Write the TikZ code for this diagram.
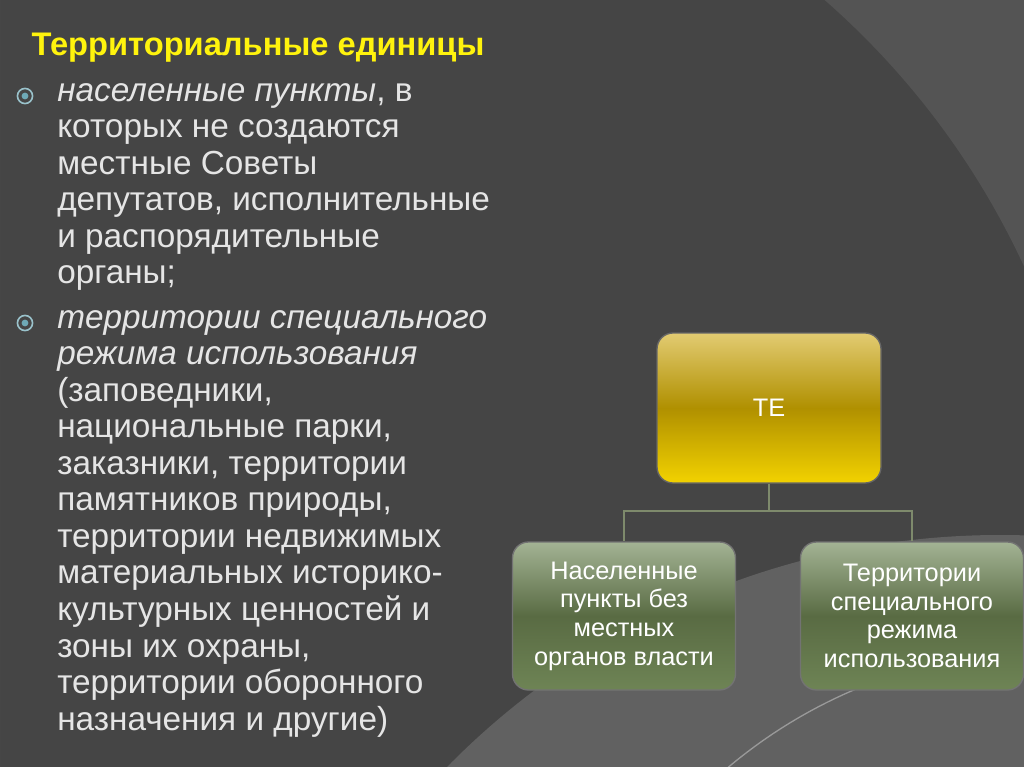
\documentclass[tikz,border=0pt]{standalone}
\usepackage{fontspec}
\setmainfont{Liberation Sans}
\definecolor{bgA}{HTML}{454545}
\definecolor{bgB}{HTML}{545454}
\definecolor{bgC}{HTML}{616161}
\definecolor{gTop}{HTML}{E2CB72}
\definecolor{gMid}{HTML}{B09000}
\definecolor{gBot}{HTML}{F2D200}
\definecolor{nTop}{HTML}{A3B394}
\definecolor{nMid}{HTML}{596B43}
\definecolor{nBot}{HTML}{6E8455}
\definecolor{lineC}{HTML}{7E8A6C}
\definecolor{bulC}{HTML}{6FA9B6}
\begin{document}
\begin{tikzpicture}[x=0.75pt,y=-0.75pt,
  body/.style={anchor=north west,align=left,inner sep=0pt,text=white!90!black,font=\fontsize{25}{27.4}\selectfont},
  bul/.style={circle,draw=bulC!70!white,line width=1.2pt,inner sep=4pt,path picture={\fill[bulC] (path picture bounding box.center) circle (3.4*0.75pt);}},
  gold/.style={draw=black!60,line width=1pt,rounded corners=12pt,top color=gTop,bottom color=gBot,middle color=gMid,minimum width=224*0.75pt,minimum height=150*0.75pt,inner sep=0pt},
  green/.style={draw=black!55,line width=1pt,rounded corners=12pt,top color=nTop,bottom color=nBot,middle color=nMid,minimum width=223*0.75pt,minimum height=148*0.75pt,align=center,text=white,font=\fontsize{19}{21.5}\selectfont,inner sep=0pt},
  con/.style={draw=lineC,line width=0.8pt}]
\useasboundingbox (0,0) rectangle (1024,767);
\fill[bgA] (0,0) rectangle (1024,767);
\begin{scope}
\clip (0,0) rectangle (1024,767);
\fill[bgB,even odd rule] (0,0) rectangle (1024,767) (300,600) circle (797);
\fill[bgC] (1000,1310) circle (775);
\draw[black!40,line width=1pt] (1050,1150) circle (500);
\end{scope}
\node[anchor=west,text=yellow!95!white,font=\bfseries\fontsize{24.5}{28}\selectfont] (title) at (27,48) {Территориальные единицы};
\node[bul] (b1) at (25,96) {};
\node[body] (t1) at (57,83) {\textit{населенные пункты}, в\\которых не создаются\\местные Советы\\депутатов, исполнительные\\и распорядительные\\органы;};
\node[bul] (b2) at (25,323) {};
\node[body] (t2) at (57,310) {\textit{территории специального}\\\textit{режима использования}\\(заповедники,\\национальные парки,\\заказники, территории\\памятников природы,\\территории недвижимых\\материальных историко-\\культурных ценностей и\\зоны их охраны,\\территории оборонного\\назначения и другие)};
\node[gold,text=white,font=\fontsize{19}{21}\selectfont] (te) at (769,408) {ТЕ};
\node[green] (n1) at (624,616) {Населенные\\пункты без\\местных\\органов власти};
\node[green] (n2) at (912,616) {Территории\\специального\\режима\\использования};
\coordinate (j) at (769,511);
\draw[con] (te.south) -- (j);
\draw[con] (n1.north) |- (j) -| (n2.north);
\end{tikzpicture}
\end{document}
